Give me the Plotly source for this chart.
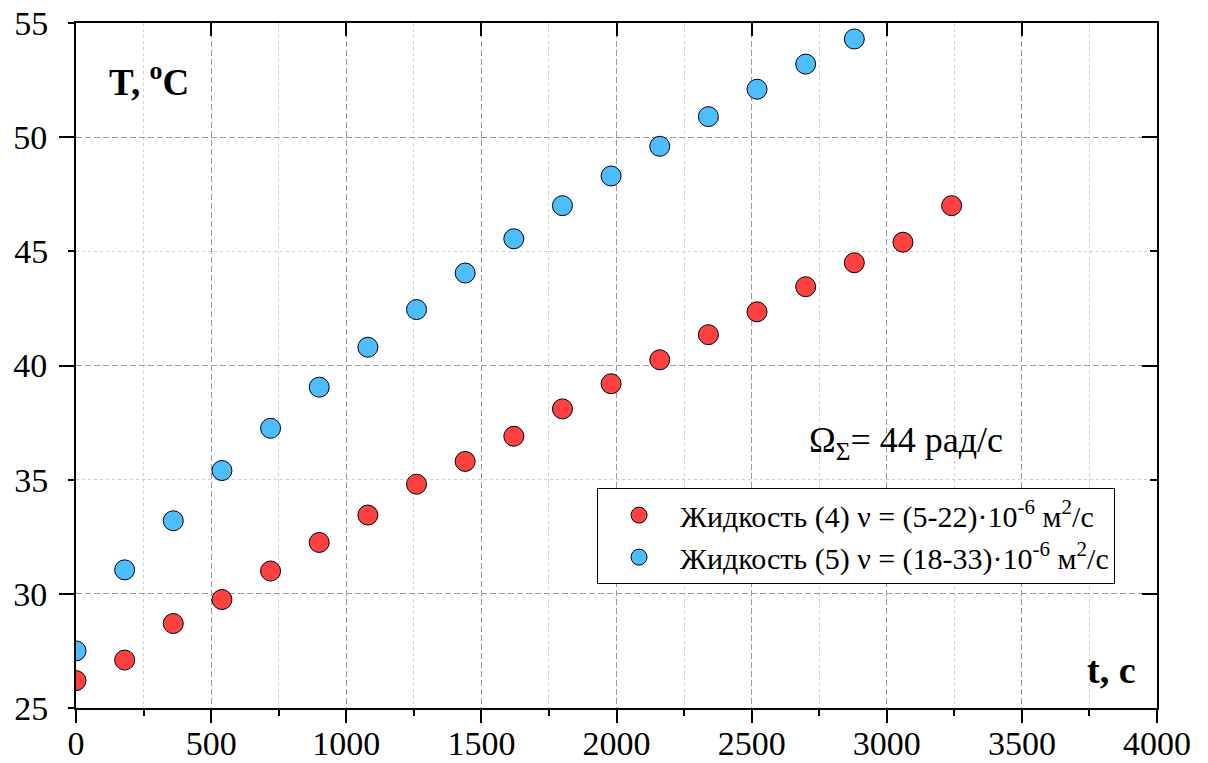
import plotly.graph_objects as go

time_s = [0, 180, 360, 540, 720, 900, 1080, 1260, 1440, 1620, 1800, 1980,
          2160, 2340, 2520, 2700, 2880, 3060, 3240]
temp_liquid4 = [26.2, 27.1, 28.7, 29.75, 31.0, 32.25, 33.45, 34.8, 35.8, 36.9,
                38.1, 39.2, 40.25, 41.35, 42.35, 43.45, 44.5, 45.4, 47.0]
time_s5 = [0, 180, 360, 540, 720, 900, 1080, 1260, 1440, 1620, 1800, 1980,
           2160, 2340, 2520, 2700, 2880]
temp_liquid5 = [27.5, 31.05, 33.2, 35.4, 37.25, 39.05, 40.8, 42.45, 44.05, 45.55,
                47.0, 48.3, 49.6, 50.9, 52.1, 53.2, 54.3]
name4 = "Жидкость (4) ν = (5-22)·10<sup>-6</sup> м<sup>2</sup>/с"
name5 = "Жидкость (5) ν = (18-33)·10<sup>-6</sup> м<sup>2</sup>/с"
y_major = [30, 40, 50]
y_minor = [25, 35, 45, 55]

FONT = "Times New Roman, Liberation Serif, serif"
TICKFONT = dict(family=FONT, size=34)
fig = go.Figure()
fig.add_trace(go.Scatter(x=time_s, y=temp_liquid4, mode="markers", name=name4,
                         marker=dict(size=20, color="#FF4141", line=dict(color="black", width=1))))
fig.add_trace(go.Scatter(x=time_s5, y=temp_liquid5, mode="markers", name=name5,
                         marker=dict(size=20, color="#4DBDFF", line=dict(color="black", width=1))))

major_grid = dict(gridcolor="#9a9a9a", griddash="6px,3px", gridwidth=1)
minor_grid_color = "#cfcfcf"

fig.update_layout(
    width=1208, height=763,
    margin=dict(l=76, r=51, t=23, b=55),
    paper_bgcolor="white", plot_bgcolor="white",
    font=dict(family=FONT, size=33, color="black"),
    showlegend=True,
    legend=dict(x=0.482, y=0.321, xanchor="left", yanchor="top",
                bordercolor="black", borderwidth=1, bgcolor="white",
                itemwidth=72,
                font=dict(family=FONT, size=30)),
    xaxis=dict(range=[0, 4000], tick0=0, dtick=500, ticks="outside", ticklen=13,
               tickwidth=2, tickcolor="black", showline=True, linecolor="black",
               linewidth=2, zeroline=False, showgrid=True, **major_grid,
               ticklabelstandoff=-9, automargin=False, tickfont=TICKFONT,
               minor=dict(dtick=250, ticks="outside", ticklen=6, tickwidth=2,
                          tickcolor="black", showgrid=True, gridcolor=minor_grid_color,
                          griddash="3px,3px", gridwidth=1)),
    xaxis2=dict(range=[0, 4000], overlaying="x", side="top", anchor="y",
                tick0=0, dtick=500, ticks="inside", ticklen=13, tickwidth=2,
                tickcolor="black", showticklabels=False, showline=True, automargin=False,
                linecolor="black", linewidth=2, showgrid=False, zeroline=False),
    yaxis=dict(range=[25, 55], tickvals=y_major, ticktext=[str(v) for v in y_major],
               ticks="outside", ticklen=15, tickwidth=2, tickcolor="black",
               tickfont=TICKFONT,
               showline=True, linecolor="black", linewidth=2, zeroline=False,
               showgrid=True, **major_grid, ticklabelstandoff=5, automargin=False),
    yaxis2=dict(range=[25, 55], overlaying="y", side="left", anchor="x",
                tickvals=y_minor, ticktext=[str(v) for v in y_minor],
                ticks="outside", ticklen=7, tickwidth=2, tickcolor="black",
                tickfont=TICKFONT,
                showline=False, zeroline=False, showgrid=True, automargin=False,
                gridcolor=minor_grid_color, griddash="3px,3px", gridwidth=1,
                ticklabelstandoff=13),
    yaxis3=dict(range=[25, 55], overlaying="y", side="right", anchor="x",
                tickvals=y_major, ticks="inside", ticklen=15, tickwidth=2,
                tickcolor="black", showticklabels=False, showline=True, automargin=False,
                linecolor="black", linewidth=2, showgrid=False, zeroline=False,
                minor=dict(tickvals=y_minor, ticks="inside", ticklen=7,
                           tickwidth=2, tickcolor="black", showgrid=False)),
)

# invisible traces to activate overlay axes
fig.add_trace(go.Scatter(x=[None], y=[None], xaxis="x2", yaxis="y", showlegend=False, hoverinfo="skip"))
fig.add_trace(go.Scatter(x=[None], y=[None], xaxis="x", yaxis="y2", showlegend=False, hoverinfo="skip"))
fig.add_trace(go.Scatter(x=[None], y=[None], xaxis="x", yaxis="y3", showlegend=False, hoverinfo="skip"))

fig.add_annotation(xref="paper", yref="paper", x=0.029, y=0.917, xanchor="left",
                   yanchor="middle", showarrow=False,
                   text="<b>T, <sup>o</sup>C</b>", font=dict(family=FONT, size=37))
fig.add_annotation(xref="paper", yref="paper", x=0.982, y=0.055, xanchor="right",
                   yanchor="middle", showarrow=False,
                   text="<b>t, c</b>", font=dict(family=FONT, size=38))
fig.add_annotation(xref="paper", yref="paper", x=0.676, y=0.387, xanchor="left",
                   yanchor="middle", showarrow=False,
                   text="Ω<sub>Σ</sub>= 44 рад/с", font=dict(family=FONT, size=36))

fig.write_html("out.html")
